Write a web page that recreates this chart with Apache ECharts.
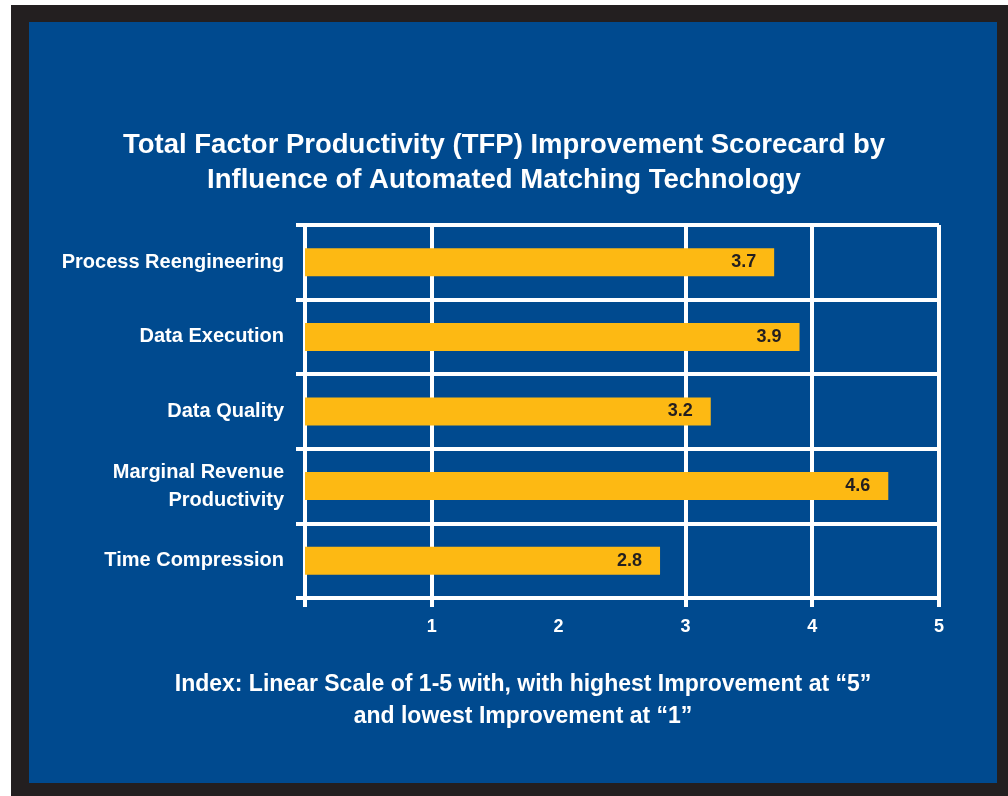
<!DOCTYPE html>
<html>
<head>
<meta charset="utf-8">
<script src="https://cdn.jsdelivr.net/npm/echarts@6/dist/echarts.min.js"></script>
<style>
  html, body { margin: 0; padding: 0; background: #ffffff; }
  #frame { position: absolute; left: 11px; top: 5px; width: 997px; height: 791px; background: #231f20; }
  #panel { position: absolute; left: 29px; top: 22px; width: 968px; height: 761px; background: #004a8f; }
  #chart { position: absolute; left: 0; top: 0; width: 1008px; height: 796px; }
</style>
</head>
<body>
<div id="frame"></div>
<div id="panel"></div>
<div id="chart"></div>
<script>
const categories = ['Process Reengineering', 'Data Execution', 'Data Quality', 'Marginal Revenue\nProductivity', 'Time Compression'];
const values = [3.7, 3.9, 3.2, 4.6, 2.8];
const tickLabels = [1, 2, 3, 4, 5];
const gridValues = [0, 1, 3, 4, 5];
const titleLines = ['Total Factor Productivity (TFP) Improvement Scorecard by', 'Influence of Automated Matching Technology'];
const noteLines = ['Index: Linear Scale of 1-5 with, with highest Improvement at \u201c5\u201d', 'and lowest Improvement at \u201c1\u201d'];

const FONT = "'Liberation Sans', Arial, sans-serif";
const chart = echarts.init(document.getElementById('chart'), null, { renderer: 'canvas' });
chart.setOption({
  backgroundColor: 'transparent',
  animation: false,
  title: {
    text: titleLines.join('\n'),
    left: 'center',
    top: 123,
    textStyle: { color: '#ffffff', fontFamily: FONT, fontWeight: 'bold', fontSize: 27.5, lineHeight: 35 }
  },
  graphic: noteLines.map((t, i) => ({
    type: 'text',
    x: 523,
    y: 685 + i * 32,
    style: {
      text: t,
      fill: '#ffffff',
      font: "bold 23px " + FONT,
      align: 'center',
      verticalAlign: 'middle'
    }
  })),
  grid: { left: 305, right: 69, top: 225, bottom: 198, containLabel: false },
  xAxis: {
    type: 'value',
    min: 0, max: 5, interval: 1,
    axisLine: { show: true, lineStyle: { color: '#ffffff', width: 4 } },
    axisTick: { show: true, length: 9, customValues: gridValues, lineStyle: { color: '#ffffff', width: 4 } },
    axisLabel: { customValues: tickLabels, color: '#ffffff', fontFamily: FONT, fontWeight: 'bold', fontSize: 18, margin: 20 },
    splitLine: { show: true, lineStyle: { color: '#ffffff', width: 4 } }
  },
  yAxis: {
    type: 'category',
    inverse: true,
    data: categories,
    axisLine: { show: true, lineStyle: { color: '#ffffff', width: 4 } },
    axisTick: { show: true, length: 9, lineStyle: { color: '#ffffff', width: 4 } },
    axisLabel: { color: '#ffffff', fontFamily: FONT, fontWeight: 'bold', fontSize: 20, lineHeight: 28, margin: 21, align: 'right' },
    splitLine: { show: true, lineStyle: { color: '#ffffff', width: 4 } }
  },
  series: [{
    type: 'bar',
    data: values,
    barWidth: 28,
    itemStyle: { color: '#fdb913' },
    label: {
      show: true,
      position: 'insideRight',
      distance: 18,
      color: '#231f20',
      fontFamily: FONT,
      fontWeight: 'bold',
      fontSize: 18,
      formatter: p => p.value.toFixed(1)
    }
  }]
});
</script>
</body>
</html>
